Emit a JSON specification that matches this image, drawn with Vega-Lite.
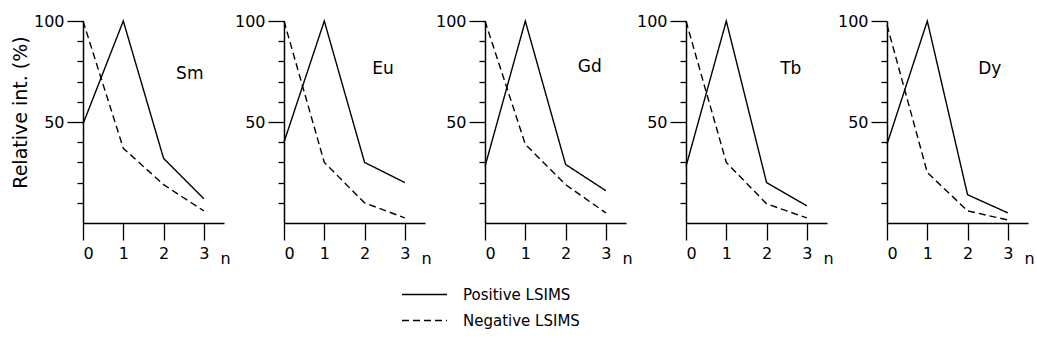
{
  "$schema": "https://vega.github.io/schema/vega-lite/v6.json",
  "background": "white",
  "padding": {"left": 10, "top": 13, "right": 5, "bottom": 5},
  "datasets": {
    "d": [
      {"el": "Sm", "series": "Positive LSIMS", "n": 0, "v": 49},
      {"el": "Sm", "series": "Positive LSIMS", "n": 1, "v": 100},
      {"el": "Sm", "series": "Positive LSIMS", "n": 2, "v": 32},
      {"el": "Sm", "series": "Positive LSIMS", "n": 3, "v": 12},
      {"el": "Sm", "series": "Negative LSIMS", "n": 0, "v": 100},
      {"el": "Sm", "series": "Negative LSIMS", "n": 1, "v": 37},
      {"el": "Sm", "series": "Negative LSIMS", "n": 2, "v": 19},
      {"el": "Sm", "series": "Negative LSIMS", "n": 3, "v": 6},
      {"el": "Eu", "series": "Positive LSIMS", "n": 0, "v": 40},
      {"el": "Eu", "series": "Positive LSIMS", "n": 1, "v": 100},
      {"el": "Eu", "series": "Positive LSIMS", "n": 2, "v": 30},
      {"el": "Eu", "series": "Positive LSIMS", "n": 3, "v": 20},
      {"el": "Eu", "series": "Negative LSIMS", "n": 0, "v": 100},
      {"el": "Eu", "series": "Negative LSIMS", "n": 1, "v": 30},
      {"el": "Eu", "series": "Negative LSIMS", "n": 2, "v": 10},
      {"el": "Eu", "series": "Negative LSIMS", "n": 3, "v": 2.5},
      {"el": "Gd", "series": "Positive LSIMS", "n": 0, "v": 28},
      {"el": "Gd", "series": "Positive LSIMS", "n": 1, "v": 100},
      {"el": "Gd", "series": "Positive LSIMS", "n": 2, "v": 29},
      {"el": "Gd", "series": "Positive LSIMS", "n": 3, "v": 16},
      {"el": "Gd", "series": "Negative LSIMS", "n": 0, "v": 100},
      {"el": "Gd", "series": "Negative LSIMS", "n": 1, "v": 39},
      {"el": "Gd", "series": "Negative LSIMS", "n": 2, "v": 19},
      {"el": "Gd", "series": "Negative LSIMS", "n": 3, "v": 5},
      {"el": "Tb", "series": "Positive LSIMS", "n": 0, "v": 28},
      {"el": "Tb", "series": "Positive LSIMS", "n": 1, "v": 100},
      {"el": "Tb", "series": "Positive LSIMS", "n": 2, "v": 20},
      {"el": "Tb", "series": "Positive LSIMS", "n": 3, "v": 8.5},
      {"el": "Tb", "series": "Negative LSIMS", "n": 0, "v": 100},
      {"el": "Tb", "series": "Negative LSIMS", "n": 1, "v": 30},
      {"el": "Tb", "series": "Negative LSIMS", "n": 2, "v": 9.5},
      {"el": "Tb", "series": "Negative LSIMS", "n": 3, "v": 2.5},
      {"el": "Dy", "series": "Positive LSIMS", "n": 0, "v": 39},
      {"el": "Dy", "series": "Positive LSIMS", "n": 1, "v": 100},
      {"el": "Dy", "series": "Positive LSIMS", "n": 2, "v": 14},
      {"el": "Dy", "series": "Positive LSIMS", "n": 3, "v": 5},
      {"el": "Dy", "series": "Negative LSIMS", "n": 0, "v": 98},
      {"el": "Dy", "series": "Negative LSIMS", "n": 1, "v": 25},
      {"el": "Dy", "series": "Negative LSIMS", "n": 2, "v": 6},
      {"el": "Dy", "series": "Negative LSIMS", "n": 3, "v": 1.5}
    ]
  },
  "spacing": 60,
  "bounds": "flush",
  "hconcat": [
    {
      "width": 141, "height": 202,
      "layer": [
        {
          "data": {"name": "d"},
          "transform": [{"filter": "datum.el === 'Sm'"}],
          "mark": {"type": "line", "color": "black", "strokeWidth": 1.4},
          "encoding": {
            "x": {"field": "n", "type": "quantitative", "scale": {"domain": [0, 3.5], "nice": false}, "axis": {"title": "n", "values": [0, 1, 2, 3]}},
            "y": {"field": "v", "type": "quantitative", "scale": {"domain": [0, 100], "nice": false}, "axis": {"title": "Relative int. (%)", "values": [0, 10, 20, 30, 40, 50, 60, 70, 80, 90, 100]}},
            "strokeDash": {"field": "series", "type": "nominal", "scale": {"domain": ["Positive LSIMS", "Negative LSIMS"], "range": [[1, 0], [7, 4]]}}
          }
        },
        {
          "data": {"values": [{"el": "Sm"}]},
          "mark": {"type": "text", "fontSize": 17, "font": "DejaVu Sans", "color": "black"},
          "encoding": {
            "x": {"datum": 2.65, "type": "quantitative", "axis": {"title": "n", "values": [0, 1, 2, 3]}},
            "y": {"datum": 74, "type": "quantitative", "axis": {"title": "Relative int. (%)", "values": [0, 10, 20, 30, 40, 50, 60, 70, 80, 90, 100]}},
            "text": {"field": "el"}
          }
        }
      ]
    },
    {
      "width": 141, "height": 202,
      "layer": [
        {
          "data": {"name": "d"},
          "transform": [{"filter": "datum.el === 'Eu'"}],
          "mark": {"type": "line", "color": "black", "strokeWidth": 1.4},
          "encoding": {
            "x": {"field": "n", "type": "quantitative", "scale": {"domain": [0, 3.5], "nice": false}, "axis": {"title": "n", "values": [0, 1, 2, 3]}},
            "y": {"field": "v", "type": "quantitative", "scale": {"domain": [0, 100], "nice": false}, "axis": {"title": null, "values": [0, 10, 20, 30, 40, 50, 60, 70, 80, 90, 100]}},
            "strokeDash": {"field": "series", "type": "nominal", "scale": {"domain": ["Positive LSIMS", "Negative LSIMS"], "range": [[1, 0], [7, 4]]}}
          }
        },
        {
          "data": {"values": [{"el": "Eu"}]},
          "mark": {"type": "text", "fontSize": 17, "font": "DejaVu Sans", "color": "black"},
          "encoding": {
            "x": {"datum": 2.46, "type": "quantitative", "axis": {"title": "n", "values": [0, 1, 2, 3]}},
            "y": {"datum": 76, "type": "quantitative", "axis": {"title": null, "values": [0, 10, 20, 30, 40, 50, 60, 70, 80, 90, 100]}},
            "text": {"field": "el"}
          }
        }
      ]
    },
    {
      "width": 141, "height": 202,
      "layer": [
        {
          "data": {"name": "d"},
          "transform": [{"filter": "datum.el === 'Gd'"}],
          "mark": {"type": "line", "color": "black", "strokeWidth": 1.4},
          "encoding": {
            "x": {"field": "n", "type": "quantitative", "scale": {"domain": [0, 3.5], "nice": false}, "axis": {"title": "n", "values": [0, 1, 2, 3]}},
            "y": {"field": "v", "type": "quantitative", "scale": {"domain": [0, 100], "nice": false}, "axis": {"title": null, "values": [0, 10, 20, 30, 40, 50, 60, 70, 80, 90, 100]}},
            "strokeDash": {"field": "series", "type": "nominal", "scale": {"domain": ["Positive LSIMS", "Negative LSIMS"], "range": [[1, 0], [7, 4]]}}
          }
        },
        {
          "data": {"values": [{"el": "Gd"}]},
          "mark": {"type": "text", "fontSize": 17, "font": "DejaVu Sans", "color": "black"},
          "encoding": {
            "x": {"datum": 2.6, "type": "quantitative", "axis": {"title": "n", "values": [0, 1, 2, 3]}},
            "y": {"datum": 77, "type": "quantitative", "axis": {"title": null, "values": [0, 10, 20, 30, 40, 50, 60, 70, 80, 90, 100]}},
            "text": {"field": "el"}
          }
        }
      ]
    },
    {
      "width": 141, "height": 202,
      "layer": [
        {
          "data": {"name": "d"},
          "transform": [{"filter": "datum.el === 'Tb'"}],
          "mark": {"type": "line", "color": "black", "strokeWidth": 1.4},
          "encoding": {
            "x": {"field": "n", "type": "quantitative", "scale": {"domain": [0, 3.5], "nice": false}, "axis": {"title": "n", "values": [0, 1, 2, 3]}},
            "y": {"field": "v", "type": "quantitative", "scale": {"domain": [0, 100], "nice": false}, "axis": {"title": null, "values": [0, 10, 20, 30, 40, 50, 60, 70, 80, 90, 100]}},
            "strokeDash": {"field": "series", "type": "nominal", "scale": {"domain": ["Positive LSIMS", "Negative LSIMS"], "range": [[1, 0], [7, 4]]}}
          }
        },
        {
          "data": {"values": [{"el": "Tb"}]},
          "mark": {"type": "text", "fontSize": 17, "font": "DejaVu Sans", "color": "black"},
          "encoding": {
            "x": {"datum": 2.6, "type": "quantitative", "axis": {"title": "n", "values": [0, 1, 2, 3]}},
            "y": {"datum": 76, "type": "quantitative", "axis": {"title": null, "values": [0, 10, 20, 30, 40, 50, 60, 70, 80, 90, 100]}},
            "text": {"field": "el"}
          }
        }
      ]
    },
    {
      "width": 141, "height": 202,
      "layer": [
        {
          "data": {"name": "d"},
          "transform": [{"filter": "datum.el === 'Dy'"}],
          "mark": {"type": "line", "color": "black", "strokeWidth": 1.4},
          "encoding": {
            "x": {"field": "n", "type": "quantitative", "scale": {"domain": [0, 3.5], "nice": false}, "axis": {"title": "n", "values": [0, 1, 2, 3]}},
            "y": {"field": "v", "type": "quantitative", "scale": {"domain": [0, 100], "nice": false}, "axis": {"title": null, "values": [0, 10, 20, 30, 40, 50, 60, 70, 80, 90, 100]}},
            "strokeDash": {"field": "series", "type": "nominal", "scale": {"domain": ["Positive LSIMS", "Negative LSIMS"], "range": [[1, 0], [7, 4]]}}
          }
        },
        {
          "data": {"values": [{"el": "Dy"}]},
          "mark": {"type": "text", "fontSize": 17, "font": "DejaVu Sans", "color": "black"},
          "encoding": {
            "x": {"datum": 2.55, "type": "quantitative", "axis": {"title": "n", "values": [0, 1, 2, 3]}},
            "y": {"datum": 76, "type": "quantitative", "axis": {"title": null, "values": [0, 10, 20, 30, 40, 50, 60, 70, 80, 90, 100]}},
            "text": {"field": "el"}
          }
        }
      ]
    }
  ],
  "config": {
    "view": {"stroke": null},
    "font": "DejaVu Sans",
    "axis": {
      "grid": false,
      "domainColor": "black",
      "domainWidth": 1.5,
      "tickColor": "black",
      "tickWidth": 1.3,
      "labelColor": "black",
      "labelFont": "DejaVu Sans",
      "labelFontSize": 16,
      "titleColor": "black",
      "titleFont": "DejaVu Sans",
      "titleFontWeight": "normal",
      "titleFontSize": 19
    },
    "axisX": {
      "tickSize": 17,
      "labelPadding": 5,
      "titleX": 142,
      "titleY": 40,
      "titleAlign": "center",
      "titleBaseline": "alphabetic",
      "titleFontSize": 16
    },
    "axisY": {
      "tickSize": {"condition": {"test": "datum.value === 50 || datum.value === 100", "value": 16}, "value": 6},
      "tickOpacity": {"condition": {"test": "datum.value === 0", "value": 0}, "value": 1},
      "labelExpr": "datum.value === 50 || datum.value === 100 ? datum.label : ''",
      "labelOverlap": false,
      "labelPadding": 3,
      "titleX": -63,
      "titleY": 91,
      "titleBaseline": "middle",
      "titleAlign": "center"
    },
    "legend": {
      "orient": "none",
      "legendX": 318,
      "legendY": 265,
      "title": null,
      "symbolType": "stroke",
      "symbolSize": 2025,
      "symbolStrokeColor": "black",
      "symbolStrokeWidth": 1.3,
      "labelFontSize": 15,
      "labelFont": "DejaVu Sans",
      "labelColor": "black",
      "labelOffset": 15,
      "clipHeight": 17,
      "rowPadding": 9
    }
  }
}
